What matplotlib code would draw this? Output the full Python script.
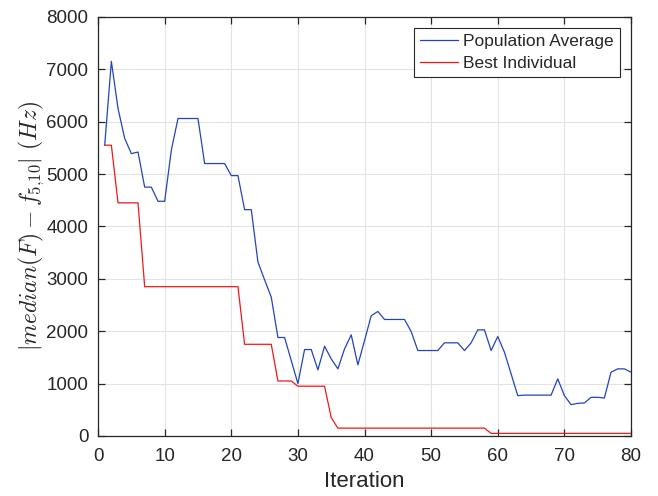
import numpy as np
import matplotlib
matplotlib.use('Agg')
import matplotlib.pyplot as plt
from matplotlib.ticker import MultipleLocator

plt.rcParams['font.family'] = ['Liberation Sans', 'DejaVu Sans']
plt.rcParams['mathtext.fontset'] = 'cm'

iteration = np.arange(1, 81)

pop_avg = [5550, 7150, 6250, 5680, 5390, 5420, 4750, 4750, 4480, 4480,
           5455, 6060, 6060, 6060, 6060, 5200, 5200, 5200, 5200, 4970,
           4970, 4320, 4320, 3320, 2980, 2650, 1880, 1880, 1440, 1000,
           1650, 1650, 1262, 1713, 1472, 1281, 1663, 1931, 1357, 1822,
           2294, 2377, 2224, 2224, 2224, 2224, 1994, 1631, 1631, 1631,
           1631, 1778, 1778, 1778, 1631, 1778, 2026, 2026, 1631, 1898,
           1599, 1185, 770, 780, 780, 780, 780, 780, 1090, 770,
           598, 623, 630, 738, 738, 725, 1217, 1281, 1281, 1217]

best_ind = [5550, 5550, 4450, 4450, 4450, 4450] + [2850] * 15 + \
           [1750] * 5 + [1050] * 3 + [950] * 5 + [350] + [150] * 23 + [50] * 22

fig = plt.figure(figsize=(6.58, 4.96), dpi=100)
ax = fig.add_axes([0.149, 0.121, 0.81, 0.845])

ax.plot(iteration, pop_avg, color='#2444b8', lw=0.9, label='Population Average')
ax.plot(iteration, best_ind, color='#f01818', lw=0.9, label='Best Individual')

ax.set_xlim(0, 80)
ax.set_ylim(0, 8000)
ax.xaxis.set_major_locator(MultipleLocator(10))
ax.yaxis.set_major_locator(MultipleLocator(1000))
ax.grid(color='#e3e3e3', lw=0.8)
ax.set_axisbelow(True)

for s in ax.spines.values():
    s.set_color('#262626')
    s.set_linewidth(0.9)
ax.tick_params(direction='in', top=True, right=True, labelsize=13.5,
               colors='#262626', length=5, width=0.9)
ax.tick_params(axis='x', pad=9)
ax.tick_params(axis='y', pad=7)

ax.set_xlabel('Iteration', fontsize=16, color='#262626', labelpad=4)
ax.set_ylabel(r'$|median(F)-f_{5{,}10}|\ (Hz)$', fontsize=17, color='#262626',
              labelpad=0)

leg = ax.legend(loc='upper right', fontsize=12.5, fancybox=False,
                framealpha=1, edgecolor='#262626', handlelength=2.2,
                borderpad=0.35, labelspacing=0.35, handletextpad=0.3,
                borderaxespad=0.65)
leg.get_frame().set_linewidth(0.8)
for t in leg.get_texts():
    t.set_color('#262626')

fig.savefig('out.png', dpi=100)
